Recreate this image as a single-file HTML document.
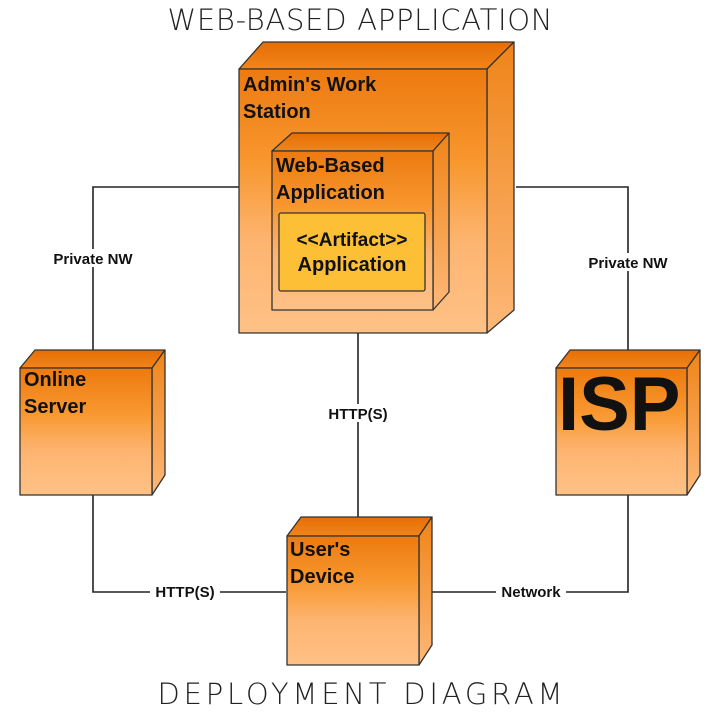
<!DOCTYPE html>
<html><head><meta charset="utf-8"><style>
html,body{margin:0;padding:0;background:#fff;}
svg{display:block;}
text{font-family:"Liberation Sans",sans-serif;}
</style></head><body>
<svg width="720" height="720" viewBox="0 0 720 720" xmlns="http://www.w3.org/2000/svg">
<defs>
<linearGradient id="g" x1="0" y1="0" x2="0" y2="1">
<stop offset="0" stop-color="#ec7a10"/><stop offset="0.35" stop-color="#f8972e"/><stop offset="0.65" stop-color="#fdb470"/><stop offset="1" stop-color="#ffc186"/>
</linearGradient>
<linearGradient id="gt" x1="0" y1="0" x2="0" y2="1">
<stop offset="0" stop-color="#e56e05"/><stop offset="1" stop-color="#f1851a"/>
</linearGradient>
<linearGradient id="gs" x1="0" y1="0" x2="0" y2="1">
<stop offset="0" stop-color="#ef8418"/><stop offset="1" stop-color="#fdb878"/>
</linearGradient>
</defs>
<g stroke="#222" stroke-width="1.6" fill="none">
<polyline points="239,187 93,187 93,350"/>
<polyline points="516,187 628,187 628,350"/>
<line x1="358" y1="333" x2="358" y2="522"/>
<polyline points="93,495 93,592 286,592"/>
<polyline points="419,592 628,592 628,495"/>
</g>
<text x="360" y="30" font-size="29" text-anchor="middle" fill="#222" style="font-family:'DejaVu Sans',sans-serif;font-weight:200" textLength="385">WEB-BASED APPLICATION</text>
<text x="360" y="704" font-size="29" text-anchor="middle" fill="#222" style="font-family:'DejaVu Sans',sans-serif;font-weight:200" textLength="405">DEPLOYMENT DIAGRAM</text>
<g stroke="#333" stroke-width="1.3" stroke-linejoin="round">
<polygon points="239,69 263,42 514,42 487,69" fill="url(#gt)"/>
<polygon points="487,69 514,42 514,310 487,333" fill="url(#gs)"/>
<rect x="239" y="69" width="248" height="264" fill="url(#g)"/>
<polygon points="272,151 292,133 449,133 433,151" fill="url(#gt)"/>
<polygon points="433,151 449,133 449,292 433,310" fill="url(#gs)"/>
<rect x="272" y="151" width="161" height="159" fill="url(#g)"/>
<rect x="279" y="213" width="146" height="78" fill="#fcbf35" rx="2"/>
<polygon points="20,368 35,350 165,350 152,368" fill="url(#gt)"/>
<polygon points="152,368 165,350 165,475 152,495" fill="url(#gs)"/>
<rect x="20" y="368" width="132" height="127" fill="url(#g)"/>
<polygon points="556,368 570,350 700,350 687,368" fill="url(#gt)"/>
<polygon points="687,368 700,350 700,475 687,495" fill="url(#gs)"/>
<rect x="556" y="368" width="131" height="127" fill="url(#g)"/>
<polygon points="287,536 301,517 432,517 419,536" fill="url(#gt)"/>
<polygon points="419,536 432,517 432,645 419,665" fill="url(#gs)"/>
<rect x="287" y="536" width="132" height="129" fill="url(#g)"/>
</g>
<g font-weight="bold" fill="#111">
<text x="243" y="91" font-size="20">Admin's Work</text>
<text x="243" y="118" font-size="20">Station</text>
<text x="276" y="172" font-size="20">Web-Based</text>
<text x="276" y="199" font-size="20">Application</text>
<text x="352" y="246" font-size="19" text-anchor="middle">&lt;&lt;Artifact&gt;&gt;</text>
<text x="352" y="271" font-size="20" text-anchor="middle">Application</text>
<text x="24" y="386" font-size="20">Online</text>
<text x="24" y="413" font-size="20">Server</text>
<text x="558" y="430" font-size="76">ISP</text>
<text x="290" y="556" font-size="20">User's</text>
<text x="290" y="583" font-size="20">Device</text>
</g>
<g font-weight="bold" font-size="15" fill="#111" text-anchor="middle">
<rect x="45" y="249" width="98" height="18" fill="#fff"/>
<text x="93" y="264">Private NW</text>
<rect x="579" y="253" width="98" height="18" fill="#fff"/>
<text x="628" y="268">Private NW</text>
<rect x="322" y="404" width="72" height="18" fill="#fff"/>
<text x="358" y="419">HTTP(S)</text>
<rect x="150" y="583" width="70" height="18" fill="#fff"/>
<text x="185" y="597">HTTP(S)</text>
<rect x="496" y="583" width="70" height="18" fill="#fff"/>
<text x="531" y="597">Network</text>
</g>
</svg>
</body></html>
